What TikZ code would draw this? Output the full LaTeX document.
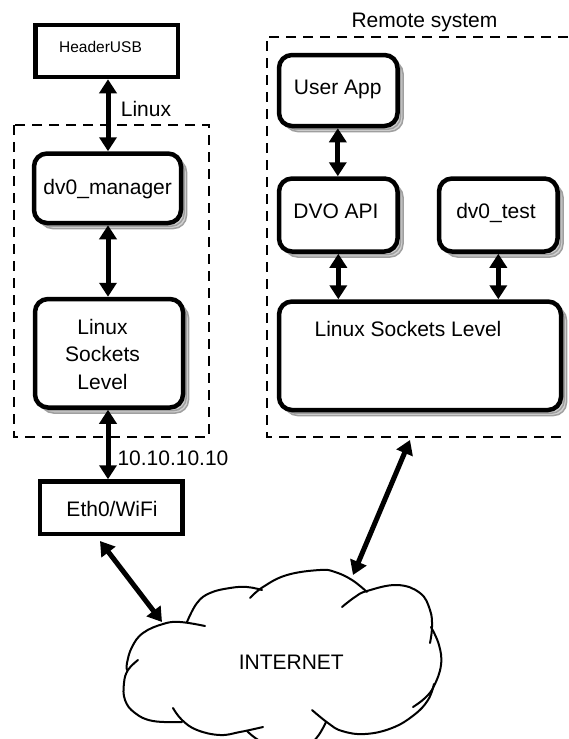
\documentclass[tikz,border=0pt]{standalone}
\usepackage{fontspec}
\setmainfont{Liberation Sans}
\usetikzlibrary{arrows.meta}
\newcommand\myshadow[4]{%
  \draw[shadowA] ({#1+5.5},{#2+5.5}) rectangle ({#3+5.5},{#4+5.5});
  \draw[shadowB] ({#1+3.2},{#2+3.2}) rectangle ({#3+3.2},{#4+3.2});}
\begin{document}
\begin{tikzpicture}[x=1pt,y=-1pt,
  txt/.style={inner sep=0pt, font=\fontsize{21}{27.5}\selectfont},
  sq/.style={draw, line width=4.5pt, fill=white, inner sep=0pt},
  rb/.style={draw, line width=4.5pt, fill=white, rounded corners=13pt, inner sep=0pt},
  shadowA/.style={draw=gray!75, fill=gray!35, line width=1.5pt, rounded corners=13pt},
  shadowB/.style={draw=gray!75, line width=1.5pt, rounded corners=13pt},
  dashbox/.style={line width=2.2pt, dash pattern=on 10pt off 7pt},
  dbl/.style={line width=5pt, {Triangle[width=17pt,length=14pt]}-{Triangle[width=17pt,length=14pt]}},
  cl/.style={line width=2pt, line cap=round}
]
\useasboundingbox (0,0) rectangle (568,739);

% dashed groups
\draw[dashbox] (14,125) rectangle (209.3,436.7);
\draw[dashbox] (568,36.7) -- (266.7,36.7) -- (266.7,436.7) -- (568,436.7);

% shadows of the rounded boxes
\myshadow{34}{153.5}{181}{223}
\myshadow{35}{299}{183}{407.5}
\myshadow{279}{55}{397.5}{126}
\myshadow{279}{178.5}{397.5}{251.5}
\myshadow{439}{178.5}{557.5}{251.5}
\myshadow{279}{301.5}{561}{410}

% boxes
\node[sq, minimum width=142.5pt, minimum height=52pt] (hdr) at (106.75,51) {};
\node[rb, minimum width=147pt, minimum height=69.5pt] (dv0) at (107.5,188.25) {};
\node[rb, minimum width=148pt, minimum height=108.5pt] (lslL) at (109,353.25) {};
\node[sq, minimum width=142.5pt, minimum height=52.5pt] (eth) at (111.25,507.75) {};
\node[rb, minimum width=118.5pt, minimum height=71pt] (app) at (338.25,90.5) {};
\node[rb, minimum width=118.5pt, minimum height=73pt] (api) at (338.25,215) {};
\node[rb, minimum width=118.5pt, minimum height=73pt] (tst) at (498.25,215) {};
\node[rb, minimum width=282pt, minimum height=108.5pt] (lslR) at (420,355.75) {};

% texts
\node[txt, font=\fontsize{15.5}{18}\selectfont, anchor=base] (tHdr) at (100.5,52.3) {HeaderUSB};
\node[txt, anchor=base west] (tLinux) at (120.7,116.7) {Linux};
\node[txt, anchor=base] (tDv0) at (107.7,194.5) {dv0\_manager};
\node[txt, align=center] (tLslL) at (102.5,354) {Linux\\Sockets\\Level};
\node[txt, anchor=base west] (tIp) at (117.3,465.7) {10.10.10.10};
\node[txt, anchor=base] (tEth) at (112,516) {Eth0/WiFi};
\node[txt, anchor=base] (tRemote) at (424.5,27) {Remote system};
\node[txt, anchor=base] (tApp) at (337.7,94.3) {User App};
\node[txt, anchor=base] (tApi) at (336,218.3) {DVO API};
\node[txt, anchor=base] (tTst) at (496,218.3) {dv0\_test};
\node[txt, anchor=base] (tLslR) at (408,336) {Linux Sockets Level};
\node[txt, anchor=base] (tNet) at (291.3,669.3) {INTERNET};

% cloud
\draw[cl] plot[smooth, tension=0.7] coordinates {(205,626) (180,622) (163,624) (143,633) (132,647) (127,663) (127,670)};
\draw[cl] plot[smooth, tension=0.7] coordinates {(138,660) (128,670) (124,683) (125,700) (135,713) (153,721) (182,722)};
\draw[cl] plot[smooth, tension=0.7] coordinates {(173,708) (182,720) (197,730) (220,735) (240,732) (263,727)};
\draw[cl] plot[smooth, tension=0.7] coordinates {(247,731) (262,742) (285,748) (308,744) (318,736) (326,722)};
\draw[cl] plot[smooth, tension=0.7] coordinates {(434,684) (428,700) (414,715) (392,728) (365,734) (342,731) (328,723) (312,710)};
\draw[cl] plot[smooth, tension=0.7] coordinates {(431,627) (439,645) (441,665) (434,686) (425,698) (413,707)};
\draw[cl] plot[smooth, tension=0.7] coordinates {(342,607) (355,597) (367,591) (397,585) (420,593) (430,610) (432,627) (430,643)};
\draw[cl] plot[smooth, tension=0.7] coordinates {(250,598) (263,587) (287,575) (320,570) (335,572) (352,580) (367,592)};
\draw[cl] plot[smooth, tension=0.7] coordinates {(187,622) (197,603) (210,593) (230,588) (247,587) (262,590)};

\coordinate (ethOut) at (100,541);
\coordinate (netL) at (162,622);
\coordinate (netT) at (353,575);
\coordinate (remOut) at (410,440);

% connectors
\draw[dbl] (108,0 |- hdr.south) -- (108,0 |- dv0.north);
\draw[dbl] (108,0 |- dv0.south) -- (108,0 |- lslL.north);
\draw[dbl] (108,0 |- lslL.south) -- (108,0 |- eth.north);
\draw[dbl] (337.8,0 |- app.south) -- (337.8,0 |- api.north);
\draw[dbl] (338.3,0 |- api.south) -- (338.3,0 |- lslR.north);
\draw[dbl] (498.3,0 |- tst.south) -- (498.3,0 |- lslR.north);
\draw[dbl] (ethOut) -- (netL);
\draw[dbl] (remOut) -- (netT);
\end{tikzpicture}
\end{document}
